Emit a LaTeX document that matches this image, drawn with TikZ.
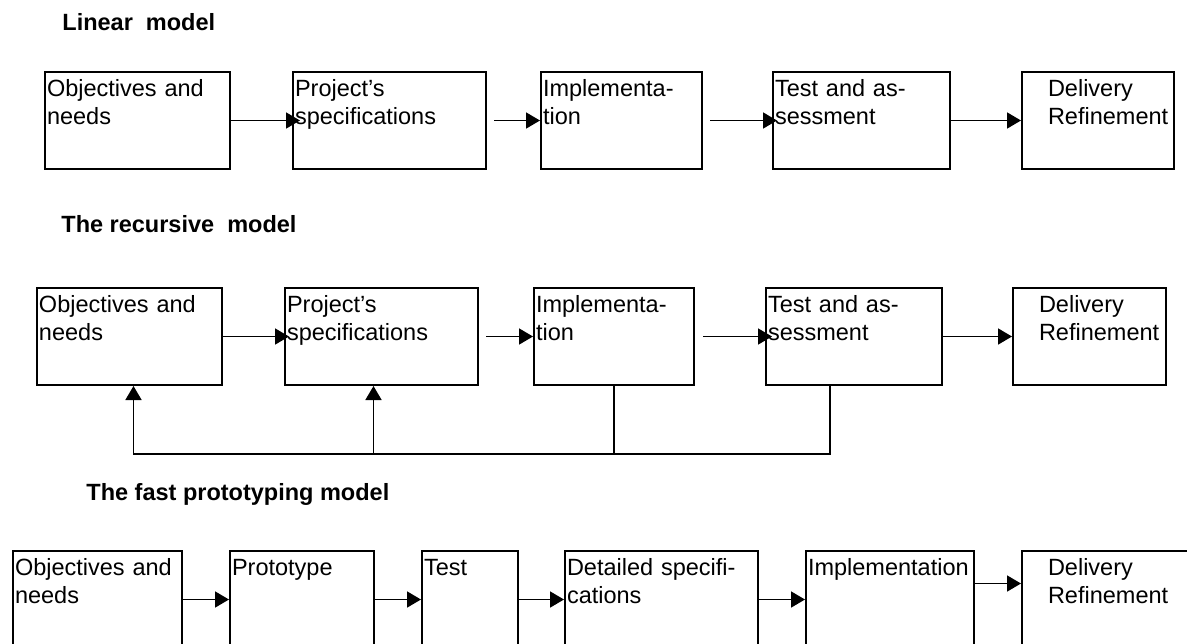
\documentclass[tikz,border=0pt]{standalone}
\usepackage{fontspec}
\setmainfont{Liberation Sans}
\usepackage{tikz}
\usetikzlibrary{arrows.meta}
\newcommand{\dind}{\hspace*{12pt}}

\begin{document}
\begin{tikzpicture}[x=0.5pt,y=-0.5pt,
          box/.style={draw,line width=1pt,anchor=north west,align=left,
                      inner xsep=1pt,inner ysep=0pt,text height=12pt,text depth=36.5pt,
                      font=\fontsize{11.75}{14}\selectfont},
          ttl/.style={anchor=base west,inner sep=0pt,
                      font=\fontsize{11.75}{14}\selectfont\bfseries},
          ln/.style={line width=0.85pt},
          arr/.style={ln,-{Triangle[length=7pt,width=8pt]}}]
        \useasboundingbox (0,0) rectangle (1187,643);
        \clip (0,0) rectangle (1187,643);
        % linear model
        \node[ttl](tlin) at (62,30) {Linear~~model};
        \node[box,text width=90.5pt](l1) at (44,71) {Objectives and\\needs};
        \node[box,text width=94.5pt](l2) at (292,71) {Project’s\\specifications};
        \node[box,text width=78.5pt](l3) at (540,71) {Implementa-\\tion};
        \node[box,text width=86.5pt](l4) at (772,71) {Test and as-\\sessment};
        \node[box,text width=74pt](l5) at (1021,71) {\dind Delivery\\\dind Refinement};
        \draw[arr,shorten >=-4pt](l1.east)--(l2.west);
        \draw[arr,shorten <=3.5pt](l2.east)--(l3.west);
        \draw[arr,shorten <=3.5pt,shorten >=-2.5pt](l3.east)--(l4.west);
        \draw[arr](l4.east)--(l5.west);
        % recursive model
        \node[ttl](trec) at (61,232) {The recursive~~model};
        \node[box,text width=90.5pt](r1) at (36,287) {Objectives and\\needs};
        \node[box,text width=94.5pt](r2) at (284,287) {Project’s\\specifications};
        \node[box,text width=78pt](r3) at (533,287) {Implementa-\\tion};
        \node[box,text width=86pt](r4) at (765,287) {Test and as-\\sessment};
        \node[box,text width=74.5pt](r5) at (1012,287) {\dind Delivery\\\dind Refinement};
        \draw[arr,shorten >=-2.5pt](r1.east)--(r2.west);
        \draw[arr,shorten <=3.5pt](r2.east)--(r3.west);
        \draw[arr,shorten <=4pt,shorten >=-3.5pt](r3.east)--(r4.west);
        \draw[arr](r4.east)--(r5.west);
        \coordinate (back) at (0,454);
        \draw[arr]([xshift=-12pt]r4.south) |- ([xshift=2pt]r1.south |- back)
          -- ([xshift=2pt]r1.south);
        \draw[ln](r3.south)--(r3.south |- back);
        \draw[arr]([xshift=-4pt]r2.south |- back)--([xshift=-4pt]r2.south);
        % fast prototyping model
        \node[ttl](tfast) at (86,500) {The fast prototyping model};
        \node[box,text width=82.5pt](f1) at (12,550) {Objectives and\\needs};
        \node[box,text width=70pt](f2) at (229,550) {Prototype};
        \node[box,text width=46pt](f3) at (421,550) {Test};
        \node[box,text width=94.5pt](f4) at (564,550) {Detailed specifi-\\cations};
        \node[box,text width=82pt](f5) at (805,550) {Implementation};
        \node[box,text width=83pt](f6) at (1021,550) {\dind Delivery\\\dind Refinement};
        \draw[arr](f1.east)--(f2.west);
        \draw[arr](f2.east)--(f3.west);
        \draw[arr](f3.east)--(f4.west);
        \draw[arr](f4.east)--(f5.west);
        \draw[arr]([yshift=8pt]f5.east)--([yshift=8pt]f6.west);
      \end{tikzpicture}
\end{document}
